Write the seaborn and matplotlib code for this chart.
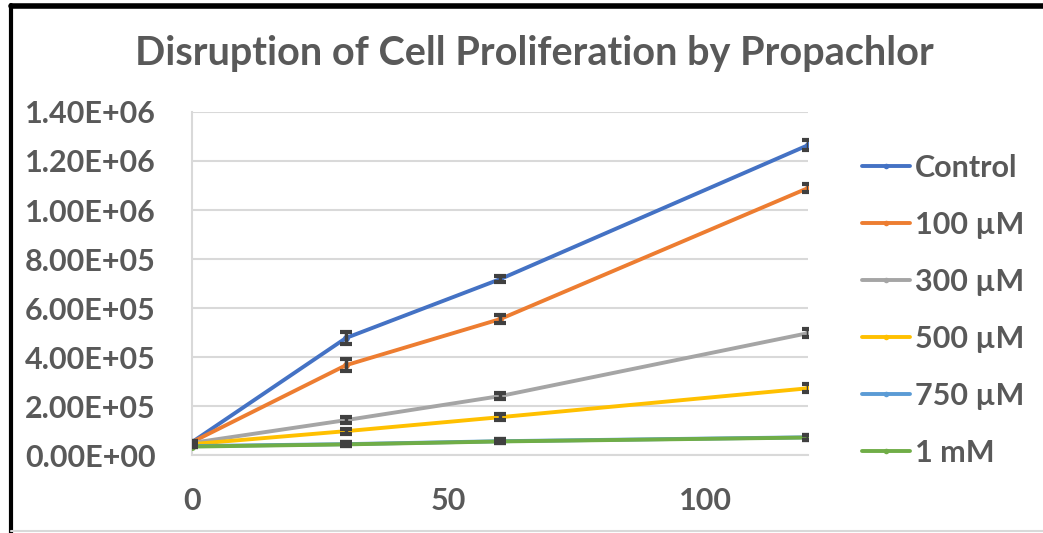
import pandas as pd
import seaborn as sns
import matplotlib.pyplot as plt
from matplotlib.lines import Line2D
from matplotlib.ticker import FuncFormatter

# data (time vs. cell count)
times = [0, 30, 60, 120]
groups = ["Control", "100 µM", "300 µM", "500 µM", "750 µM", "1 mM"]
control = [5.3e4, 4.78e5, 7.18e5, 1.265e6]
um100 = [5.3e4, 3.67e5, 5.55e5, 1.09e6]
um300 = [5.0e4, 1.43e5, 2.41e5, 4.98e5]
um500 = [4.5e4, 9.8e4, 1.55e5, 2.73e5]
um750 = [3.7e4, 4.5e4, 5.7e4, 7.3e4]
mm1 = [3.5e4, 4.4e4, 5.6e4, 7.2e4]
control_err = [5e3, 2.5e4, 1.2e4, 2.0e4]
um100_err = [5e3, 2.4e4, 1.6e4, 1.6e4]
um300_err = [4e3, 1.2e4, 1.2e4, 1.8e4]
um500_err = [3e3, 1.0e4, 1.2e4, 1.6e4]
um750_err = [3e3, 8e3, 8e3, 1.0e4]
mm1_err = [3e3, 8e3, 8e3, 1.0e4]
colors = ["#4472C4", "#ED7D31", "#A5A5A5", "#FFC000", "#5B9BD5", "#70AD47"]

values = [control, um100, um300, um500, um750, mm1]
errors = [control_err, um100_err, um300_err, um500_err, um750_err, mm1_err]

df = pd.DataFrame({
    "time": times * len(groups),
    "cells": sum(values, []),
    "err": sum(errors, []),
    "group": [g for g in groups for _ in times],
})

sns.set_theme(style="white")
plt.rcParams["font.family"] = ["Lato", "DejaVu Sans"]
text_col = "#595959"

fig, ax = plt.subplots(figsize=(10.43, 5.33), dpi=100)
fig.subplots_adjust(left=0.184, right=0.775, bottom=0.146, top=0.79)

# error bars
for g, c in zip(groups, colors):
    sub = df[df["group"] == g]
    ax.errorbar(sub["time"], sub["cells"], yerr=sub["err"], fmt="none",
                ecolor="#404040", elinewidth=2.5, capsize=4, capthick=3,
                zorder=4)

sns.lineplot(data=df, x="time", y="cells", hue="group", palette=colors,
             marker="o", markersize=5, markeredgewidth=0, linewidth=2.8,
             ax=ax, legend=False, zorder=3)

ax.set_xlim(0, 120)
ax.set_ylim(0, 1.4e6)
ax.set_xticks([0, 50, 100])
ax.set_yticks([i * 2e5 for i in range(8)])
ax.yaxis.set_major_formatter(FuncFormatter(lambda v, p: f"{v:.2E}"))
ax.grid(axis="y", color="#D9D9D9", linewidth=1.5)
ax.set_axisbelow(True)
ax.set_xlabel("")
ax.set_ylabel("")
for s in ["top", "right"]:
    ax.spines[s].set_visible(False)
for s in ["left", "bottom"]:
    ax.spines[s].set_color("#D9D9D9")
    ax.spines[s].set_linewidth(1.5)
ax.tick_params(axis="both", length=0, labelsize=22, labelcolor=text_col)
ax.tick_params(axis="y", pad=26)
ax.tick_params(axis="x", pad=23)
for lbl in ax.get_xticklabels() + ax.get_yticklabels():
    lbl.set_fontweight("bold")

fig.suptitle("Disruption of Cell Proliferation by Propachlor", x=0.512,
             y=0.9, va="center", fontsize=28.5, fontweight="bold",
             color=text_col)

handles = [Line2D([0], [0], color=c, linewidth=2.8, marker="o",
                  markersize=4, markeredgewidth=0) for c in colors]
leg = ax.legend(handles, groups, loc="upper left", frameon=False,
                bbox_to_anchor=(0.826, 0.711), bbox_transform=fig.transFigure,
                borderpad=0, borderaxespad=0, handlelength=1.6,
                handletextpad=0.15, labelspacing=0.95,
                prop={"size": 22, "weight": "bold"})
for t in leg.get_texts():
    t.set_color(text_col)

# black frame on the left and top edges of the picture
fig.add_artist(Line2D([0.011, 0.011], [0, 0.99], color="black",
                      linewidth=3, transform=fig.transFigure))
fig.add_artist(Line2D([0.011, 1], [0.988, 0.988], color="black",
                      linewidth=4, transform=fig.transFigure))
fig.add_artist(Line2D([0.011, 1], [0.003, 0.003], color="#D9D9D9",
                      linewidth=1.5, transform=fig.transFigure))

fig.savefig("out.png", dpi=100)
